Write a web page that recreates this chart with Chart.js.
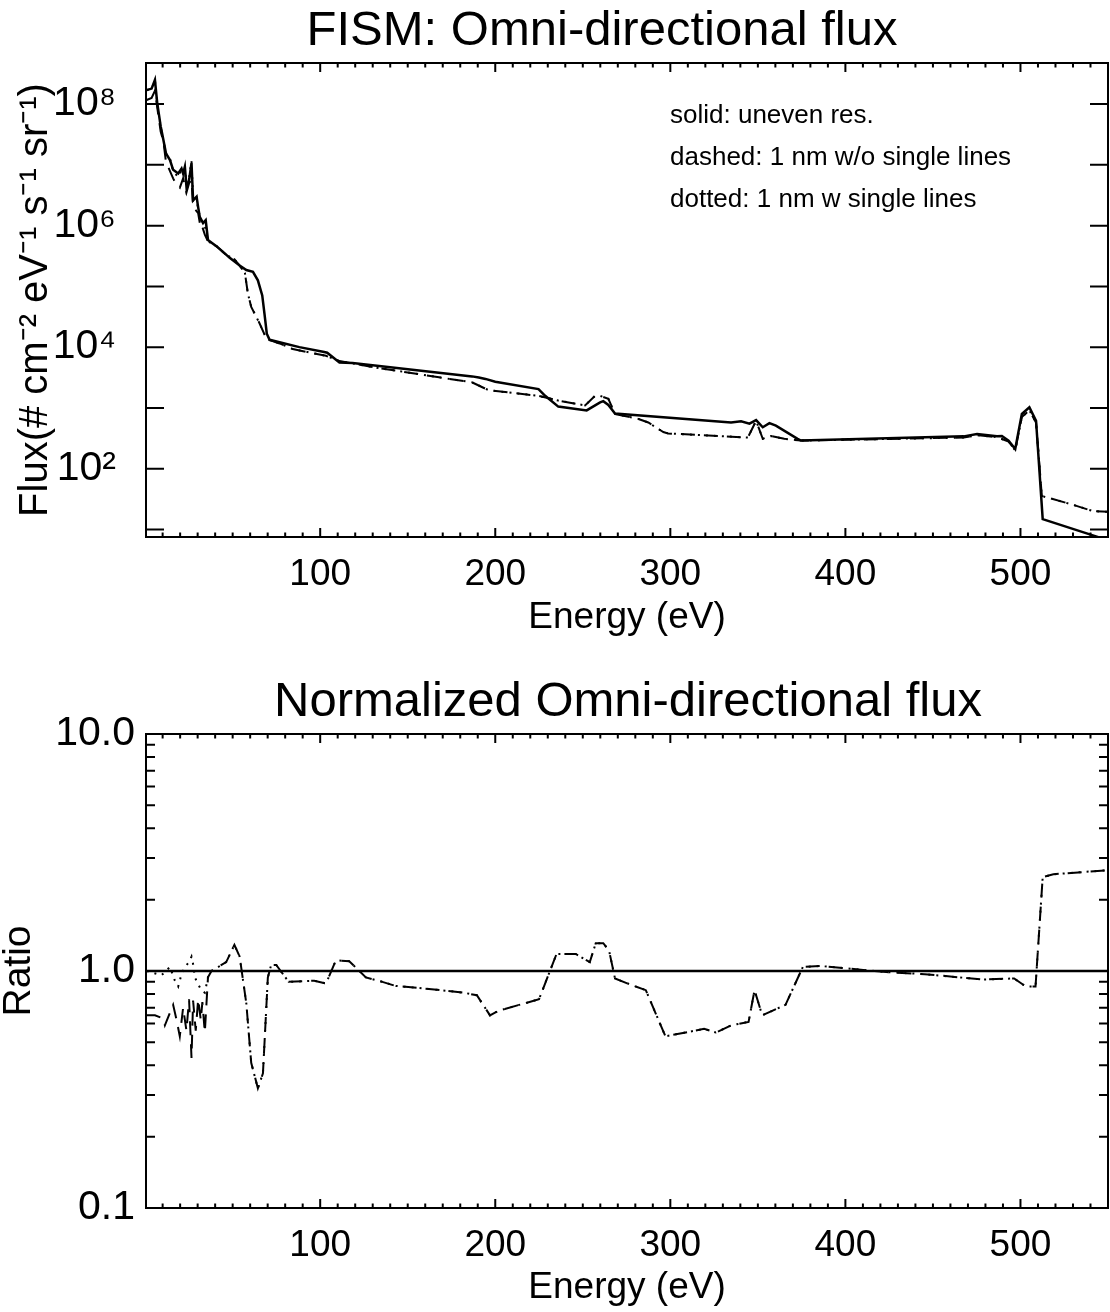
<!DOCTYPE html>
<html>
<head>
<meta charset="utf-8">
<script src="https://cdn.jsdelivr.net/npm/chart.js@4.4.1/dist/chart.umd.min.js"></script>
<style>
  body { margin: 0; background: #fff; }
  canvas { display: block; }
</style>
</head>
<body>
<canvas id="fluxChart" width="1110" height="650"></canvas>
<canvas id="ratioChart" width="1110" height="662"></canvas>
<script>
// --- DATA ---
const energySolid = [0.9, 3.7, 5.6, 6.9, 8.9, 10, 11.9, 14.2, 16, 18.9, 20.8, 21.7, 22.7, 23.7, 25.1, 26.5, 27.4, 29.4, 30.3, 31.2,
  33.1, 34.6, 35.9, 40.7, 44.5, 48.3, 54, 57.8, 61.6, 64.4, 66.9, 68.2, 69.5, 71.1, 76.8, 88.1, 102.3, 104, 111, 118.5,
  186.8, 190.6, 194.4, 200, 224.7, 228.5, 236, 252.2, 259.9, 261.7, 264.6, 268.4, 334.7, 340.4, 345.2, 349, 352.8, 356.6, 360.3, 372.7,
  374.6, 467.6, 475.2, 486.6, 489.4, 493.2, 497, 500.8, 505.1, 508.9, 512.7, 539.6, 550];
const fluxSolid = [1.7e8, 1.8e8, 2.5e8, 1.05e8, 4.3e7, 3.0e7, 1.55e7, 1.2e7, 8.3e6, 7.2e6, 8.7e6, 7.2e6, 9.3e6, 4.1e6, 5.6e6, 1.07e7, 2.6e6, 3.0e6, 2.0e6, 1.4e6,
  1.1e6, 1.23e6, 5.8e5, 4.6e5, 3.7e5, 2.95e5, 2.2e5, 1.86e5, 1.74e5, 1.26e5, 7.1e4, 3.5e4, 1.66e4, 1.32e4, 1.2e4, 1.0e4, 8.3e3, 8.1e3, 5.6e3, 5.5e3,
  3.3e3, 3.16e3, 3.0e3, 2.7e3, 2.04e3, 1.58e3, 1.05e3, 910, 1230, 1290, 1120, 810, 575, 600, 550, 630, 480, 560, 510, 310,
  290, 340, 370, 340, 345, 290, 210, 795, 1020, 615, 14.8, 8.3, 6.6];

const energyDashed = [0.9, 3.7, 5.6, 6.9, 8.9, 10.4, 11.9, 14.2, 16, 18, 19.8, 21.7, 23.6, 25.1, 26.5, 27.4, 28.9, 30.3, 31.8, 32.7,
  34.1, 35.9, 40.7, 46.3, 51, 54, 57, 58.7, 60.6, 65.4, 68.8, 71, 76.8, 84.3, 103.3, 111, 129.9, 186.8, 196.3, 224.7,
  236, 251.3, 257, 259.9, 264.6, 268.4, 281.7, 287.4, 296, 298.7, 344.3, 349, 352.8, 357.5, 365.1, 374.6, 467.6, 475.2, 486.6, 493.2,
  497, 500.8, 505.1, 508.9, 512.2, 528.3, 541.5, 550];
const fluxDashed = [1.17e8, 1.26e8, 1.66e8, 8.9e7, 3.5e7, 2.5e7, 1.12e7, 7.9e6, 6.0e6, 4.6e6, 4.2e6, 6.0e6, 3.5e6, 5.0e6, 5.6e6, 2.0e6, 1.8e6, 1.6e6, 8.9e5, 9.5e5,
  7.1e5, 5.5e5, 4.6e5, 3.3e5, 2.8e5, 2.2e5, 1.66e5, 7.6e4, 4.6e4, 2.45e4, 1.48e4, 1.32e4, 1.15e4, 9.3e3, 7.2e3, 5.9e3, 4.7e3, 2.63e3, 1.95e3, 1.58e3,
  1.32e3, 1.1e3, 1.58e3, 1.58e3, 1.41e3, 795, 660, 575, 400, 380, 325, 615, 310, 345, 310, 290, 325, 355, 330, 280,
  200, 710, 910, 575, 35.5, 26.3, 20, 19.5];

// dotted = 1 nm with single lines; only differs from dashed below ~36 eV
const energyDottedLow = [0.9, 3.7, 5.6, 6.9, 8.9, 10, 11.9, 14.2, 16, 18.9, 20.8, 21.7, 22.7, 23.7, 25.1, 26.5, 27.4, 29.4, 30.3, 32.1, 34.1];
const fluxDottedLow = [1.7e8, 1.8e8, 2.5e8, 1.05e8, 4.2e7, 2.9e7, 1.55e7, 1.26e7, 7.9e6, 6.3e6, 8.5e6, 7.4e6, 9.5e6, 4.2e6, 6.0e6, 1.15e7, 2.8e6, 2.9e6, 1.8e6, 1.2e6, 1.0e6];

const energyRatio = [0.9, 5.6, 10.4, 11.3, 16, 18, 19.8, 21.7, 23.6, 25.1, 26.5, 27.4, 28.9, 30.3, 31.8, 32.7, 34.1, 35, 35.9, 37.9,
  46.3, 51, 54, 57.8, 60.6, 64.4, 67.3, 70.1, 72, 74.9, 82, 96.6, 103.3, 109, 116.6, 126.1, 135.5, 143.1, 162.1, 182,
  189.5, 197, 202, 225, 235, 246, 254, 257.4, 261.7, 265, 268.4, 278.3, 286, 297.2, 319.3, 326, 334.8, 344.7, 348.1, 352.5,
  365.8, 375.7, 385.7, 423.3, 445.4, 478.7, 496.4, 503, 508.6, 512.7, 518.8, 549];
const ratioDashed = [0.65, 0.65, 0.63, 0.59, 0.72, 0.62, 0.53, 0.70, 0.56, 0.76, 0.43, 0.75, 0.56, 0.76, 0.62, 0.74, 0.55, 0.72, 0.94, 1.0,
  1.09, 1.29, 1.15, 0.73, 0.41, 0.32, 0.37, 0.94, 1.06, 1.06, 0.90, 0.91, 0.885, 1.11, 1.10, 0.94, 0.90, 0.865, 0.84, 0.81,
  0.79, 0.65, 0.68, 0.76, 1.18, 1.18, 1.09, 1.31, 1.31, 1.22, 0.93, 0.87, 0.83, 0.53, 0.57, 0.55, 0.59, 0.61, 0.83, 0.65,
  0.72, 1.04, 1.05, 0.99, 0.97, 0.92, 0.93, 0.86, 0.86, 2.49, 2.56, 2.66];

const energyRatioDottedLow = [0.9, 9.4, 14.2, 17, 18.9, 20.8, 22.7, 25.1, 26.5, 27.4, 28.4, 30.3, 32.1, 34.1, 35.9];
const ratioDottedLow = [1.0, 0.96, 1.04, 0.91, 0.86, 0.97, 1.04, 1.09, 1.15, 1.07, 0.94, 0.88, 0.83, 0.81, 0.94];

const energyRatioSolid = [0.5, 550];
const ratioSolid = [1, 1];

// --- AXES / TEXT ---
const xMajorTicks = [100, 200, 300, 400, 500];
const xTickLabels = ['100', '200', '300', '400', '500'];
const fluxTickValues = [1e2, 1e4, 1e6, 1e8];
const fluxTickLabels = ['10²', '10⁴', '10⁶', '10⁸'];
const fluxDecades = [1e1, 1e2, 1e3, 1e4, 1e5, 1e6, 1e7, 1e8];
const ratioTickValues = [0.1, 1, 10];
const ratioTickLabels = ['0.1', '1.0', '10.0'];
const ratioMinor = [0.2, 0.3, 0.4, 0.5, 0.6, 0.7, 0.8, 0.9, 2, 3, 4, 5, 6, 7, 8, 9];
const legendLines = ['solid: uneven res.', 'dashed: 1 nm w/o single lines', 'dotted: 1 nm w single lines'];

const FONT = "'Liberation Sans', Arial, Helvetica, sans-serif";
const tickFont = { family: FONT, size: 37 };
const yTickFont = { family: FONT, size: 41 };

function pts(xs, ys) { return xs.map((e, i) => ({ x: e, y: ys[i] })); }

// box round the plot with inward IDL-style ticks
const frameTicks = {
  id: 'frameTicks',
  afterDatasetsDraw(chart, args, opts) {
    const { ctx, chartArea: a, scales: { x, y } } = chart;
    ctx.save();
    ctx.strokeStyle = '#000';
    ctx.lineWidth = 2;
    ctx.strokeRect(a.left, a.top, a.right - a.left, a.bottom - a.top);
    ctx.beginPath();
    for (let e = 10; e < x.max; e += 10) {
      const px = x.getPixelForValue(e);
      const len = e % 100 === 0 ? 9 : 4.5;
      ctx.moveTo(px, a.bottom); ctx.lineTo(px, a.bottom - len);
      ctx.moveTo(px, a.top); ctx.lineTo(px, a.top + len);
    }
    const drawY = (vals, len) => vals.forEach(v => {
      const py = y.getPixelForValue(v);
      ctx.moveTo(a.left, py); ctx.lineTo(a.left + len, py);
      ctx.moveTo(a.right, py); ctx.lineTo(a.right - len, py);
    });
    drawY(opts.major || [], 18);
    drawY(opts.minor || [], 9);
    ctx.stroke();
    ctx.restore();
  }
};

// plot title, IDL-style (centred by hand, normal weight)
const plotTitle = {
  id: 'plotTitle',
  afterDraw(chart, args, opts) {
    const ctx = chart.ctx;
    ctx.save();
    ctx.fillStyle = '#000';
    ctx.font = '49px ' + FONT;
    ctx.textAlign = 'center';
    ctx.textBaseline = 'alphabetic';
    ctx.fillText(opts.text, opts.cx, opts.baseline);
    ctx.restore();
  }
};

const legendText = {
  id: 'legendText',
  afterDraw(chart) {
    const ctx = chart.ctx;
    ctx.save();
    ctx.fillStyle = '#000';
    ctx.font = '26px ' + FONT;
    ctx.textBaseline = 'middle';
    legendLines.forEach((t, i) => ctx.fillText(t, 670, 116 + i * 42));
    ctx.restore();
  }
};

function xScale(height, labelPad, titlePad) {
  return {
    type: 'linear', min: 0.5, max: 550,
    afterBuildTicks: s => { s.ticks = xMajorTicks.map(v => ({ value: v })); },
    afterFit: s => { s.height = height; },
    ticks: { callback: (v, i) => xTickLabels[i], font: tickFont, color: '#000', padding: labelPad, maxRotation: 0, autoSkip: false },
    grid: { display: false, drawTicks: false },
    border: { display: false },
    title: { display: true, text: 'Energy (eV)', font: tickFont, color: '#000', padding: { top: 0, bottom: titlePad } }
  };
}

const lineBase = { pointRadius: 0, borderColor: '#000', tension: 0, fill: false };

new Chart(document.getElementById('fluxChart'), {
  type: 'line',
  data: {
    datasets: [
      { ...lineBase, label: 'solid', data: pts(energySolid, fluxSolid), borderWidth: 2.5 },
      { ...lineBase, label: 'dashed', data: pts(energyDashed, fluxDashed), borderWidth: 2, borderDash: [14, 9] },
      { ...lineBase, label: 'dotted', data: pts(energyDottedLow, fluxDottedLow).concat(pts(energyDashed, fluxDashed).filter(p => p.x > 35)), borderWidth: 2, borderDash: [2, 6] }
    ]
  },
  options: {
    responsive: false, animation: false, devicePixelRatio: 1,
    layout: { padding: { left: 0, right: 2, top: 63, bottom: 0 } },
    plugins: {
      legend: { display: false }, tooltip: { enabled: false }, title: { display: false },
      plotTitle: { text: 'FISM: Omni-directional flux', cx: 602, baseline: 45 },
      frameTicks: { major: fluxDecades, minor: [] }
    },
    scales: {
      x: xScale(113, 16, 10),
      y: {
        type: 'logarithmic', min: 7.5, max: 4.75e8,
        afterBuildTicks: s => { s.ticks = fluxTickValues.map(v => ({ value: v })); },
        afterFit: s => { s.width = 146; },
        ticks: { callback: (v, i) => fluxTickLabels[i], font: yTickFont, color: '#000', padding: 30, autoSkip: false },
        grid: { display: false, drawTicks: false },
        border: { display: false },
        title: { display: true, text: 'Flux(# cm⁻² eV⁻¹ s⁻¹ sr⁻¹)', font: { family: FONT, size: 40 }, color: '#000', padding: { top: 12, bottom: 0 } }
      }
    }
  },
  plugins: [frameTicks, plotTitle, legendText]
});

new Chart(document.getElementById('ratioChart'), {
  type: 'line',
  data: {
    datasets: [
      { ...lineBase, label: 'solid', data: pts(energyRatioSolid, ratioSolid), borderWidth: 2.5 },
      { ...lineBase, label: 'dashed', data: pts(energyRatio, ratioDashed), borderWidth: 2, borderDash: [14, 9] },
      { ...lineBase, label: 'dotted', data: pts(energyRatioDottedLow, ratioDottedLow).concat(pts(energyRatio, ratioDashed).filter(p => p.x > 36)), borderWidth: 2, borderDash: [2, 6] }
    ]
  },
  options: {
    responsive: false, animation: false, devicePixelRatio: 1,
    layout: { padding: { left: 0, right: 2, top: 84, bottom: 0 } },
    plugins: {
      legend: { display: false }, tooltip: { enabled: false }, title: { display: false },
      plotTitle: { text: 'Normalized Omni-directional flux', cx: 628, baseline: 66 },
      frameTicks: { major: ratioTickValues, minor: ratioMinor }
    },
    scales: {
      x: xScale(104, 16, 2),
      y: {
        type: 'logarithmic', min: 0.1, max: 10,
        afterBuildTicks: s => { s.ticks = ratioTickValues.map(v => ({ value: v })); },
        afterFit: s => { s.width = 146; },
        ticks: { callback: (v, i) => ratioTickLabels[i], font: yTickFont, color: '#000', padding: 11, autoSkip: false },
        grid: { display: false, drawTicks: false },
        border: { display: false },
        title: { display: true, text: 'Ratio', font: { family: FONT, size: 39 }, color: '#000', padding: { top: -4, bottom: 0 } }
      }
    }
  },
  plugins: [frameTicks, plotTitle]
});
</script>
</body>
</html>
